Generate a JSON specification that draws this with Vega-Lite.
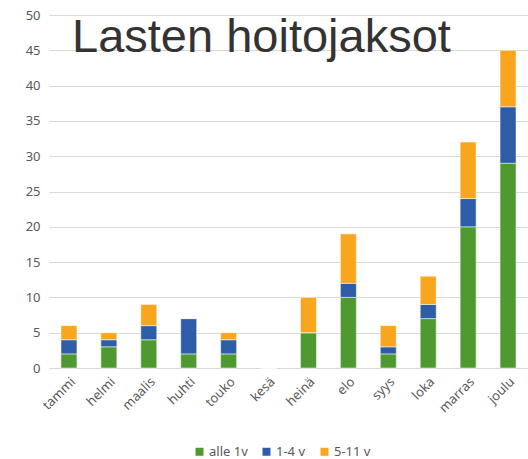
{
  "$schema": "https://vega.github.io/schema/vega-lite/v6.json",
  "width": 479,
  "height": 353,
  "autosize": {"type": "none"},
  "padding": {"left": 49, "top": 15, "right": 0, "bottom": 91},
  "background": "white",
  "title": {
    "text": "Lasten hoitojaksot",
    "orient": "none",
    "font": "Liberation Sans",
    "fontSize": 47,
    "fontWeight": "normal",
    "color": "#333333",
    "anchor": "start",
    "align": "left",
    "baseline": "alphabetic",
    "dx": 23,
    "dy": 37
  },
  "data": {
    "values": [
      {"kk": "tammi", "ryhma": "alle 1v", "k": 1, "n": 2},
      {"kk": "tammi", "ryhma": "1-4 v", "k": 2, "n": 2},
      {"kk": "tammi", "ryhma": "5-11 v", "k": 3, "n": 2},
      {"kk": "helmi", "ryhma": "alle 1v", "k": 1, "n": 3},
      {"kk": "helmi", "ryhma": "1-4 v", "k": 2, "n": 1},
      {"kk": "helmi", "ryhma": "5-11 v", "k": 3, "n": 1},
      {"kk": "maalis", "ryhma": "alle 1v", "k": 1, "n": 4},
      {"kk": "maalis", "ryhma": "1-4 v", "k": 2, "n": 2},
      {"kk": "maalis", "ryhma": "5-11 v", "k": 3, "n": 3},
      {"kk": "huhti", "ryhma": "alle 1v", "k": 1, "n": 2},
      {"kk": "huhti", "ryhma": "1-4 v", "k": 2, "n": 5},
      {"kk": "huhti", "ryhma": "5-11 v", "k": 3, "n": 0},
      {"kk": "touko", "ryhma": "alle 1v", "k": 1, "n": 2},
      {"kk": "touko", "ryhma": "1-4 v", "k": 2, "n": 2},
      {"kk": "touko", "ryhma": "5-11 v", "k": 3, "n": 1},
      {"kk": "kesä", "ryhma": "alle 1v", "k": 1, "n": 0},
      {"kk": "kesä", "ryhma": "1-4 v", "k": 2, "n": 0},
      {"kk": "kesä", "ryhma": "5-11 v", "k": 3, "n": 0},
      {"kk": "heinä", "ryhma": "alle 1v", "k": 1, "n": 5},
      {"kk": "heinä", "ryhma": "1-4 v", "k": 2, "n": 0},
      {"kk": "heinä", "ryhma": "5-11 v", "k": 3, "n": 5},
      {"kk": "elo", "ryhma": "alle 1v", "k": 1, "n": 10},
      {"kk": "elo", "ryhma": "1-4 v", "k": 2, "n": 2},
      {"kk": "elo", "ryhma": "5-11 v", "k": 3, "n": 7},
      {"kk": "syys", "ryhma": "alle 1v", "k": 1, "n": 2},
      {"kk": "syys", "ryhma": "1-4 v", "k": 2, "n": 1},
      {"kk": "syys", "ryhma": "5-11 v", "k": 3, "n": 3},
      {"kk": "loka", "ryhma": "alle 1v", "k": 1, "n": 7},
      {"kk": "loka", "ryhma": "1-4 v", "k": 2, "n": 2},
      {"kk": "loka", "ryhma": "5-11 v", "k": 3, "n": 4},
      {"kk": "marras", "ryhma": "alle 1v", "k": 1, "n": 20},
      {"kk": "marras", "ryhma": "1-4 v", "k": 2, "n": 4},
      {"kk": "marras", "ryhma": "5-11 v", "k": 3, "n": 8},
      {"kk": "joulu", "ryhma": "alle 1v", "k": 1, "n": 29},
      {"kk": "joulu", "ryhma": "1-4 v", "k": 2, "n": 8},
      {"kk": "joulu", "ryhma": "5-11 v", "k": 3, "n": 8}
    ]
  },
  "mark": {"type": "bar", "stroke": "white", "strokeWidth": 0.5},
  "encoding": {
    "x": {
      "field": "kk",
      "type": "nominal",
      "sort": null,
      "scale": {"paddingInner": 0.6, "paddingOuter": 0.3},
      "axis": {
        "title": null,
        "labelAngle": -45,
        "labelFont": "Noto Sans",
        "labelFontSize": 13,
        "labelColor": "#595959",
        "domain": false,
        "ticks": false,
        "labelPadding": 7
      }
    },
    "y": {
      "field": "n",
      "type": "quantitative",
      "stack": "zero",
      "scale": {"domain": [0, 50]},
      "axis": {
        "title": null,
        "values": [0, 5, 10, 15, 20, 25, 30, 35, 40, 45, 50],
        "labelFont": "Noto Sans",
        "labelFontSize": 13,
        "labelColor": "#595959",
        "domain": false,
        "ticks": false,
        "labelPadding": 9,
        "gridColor": "#d9d9d9",
        "gridWidth": 1
      }
    },
    "color": {
      "field": "ryhma",
      "type": "nominal",
      "scale": {
        "domain": ["alle 1v", "1-4 v", "5-11 v"],
        "range": ["#4e9a31", "#2e5da8", "#f9a61f"]
      },
      "legend": {
        "title": null,
        "orient": "none",
        "legendX": 144,
        "legendY": 430,
        "direction": "horizontal",
        "symbolType": "square",
        "symbolSize": 64,
        "symbolStrokeWidth": 0,
        "labelFont": "Noto Sans",
        "labelFontSize": 13,
        "labelColor": "#595959",
        "labelOffset": 3,
        "columnPadding": 12
      }
    },
    "order": {"field": "k", "type": "quantitative"}
  },
  "config": {
    "view": {"stroke": null}
  }
}
